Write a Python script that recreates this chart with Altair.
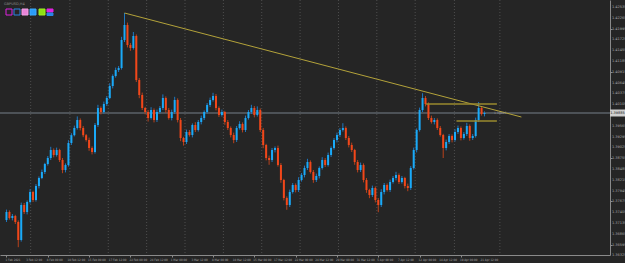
import altair as alt
import pandas as pd

# ---------------- data ----------------
first_open = 1.3721
closes = [
    1.3741, 1.3726, 1.3731, 1.3716, 1.3671, 1.37585, 1.3741, 1.3766, 1.3791, 1.3771,
    1.3806, 1.3826, 1.3841, 1.3861, 1.3876, 1.3896, 1.38835, 1.3896, 1.3871, 1.3846,
    1.38585, 1.39135, 1.3933, 1.3951, 1.3971, 1.3951, 1.3933, 1.3921, 1.3901, 1.3891,
    1.39585, 1.4001, 1.3991, 1.4011, 1.4026, 1.4056, 1.4081, 1.4096, 1.4101, 1.4171,
    1.42085, 1.41585, 1.4151, 1.4181, 1.4071, 1.40335, 1.4001, 1.3991, 1.3976, 1.3996,
    1.3971, 1.3991, 1.4001, 1.4026, 1.3996, 1.3976, 1.3991, 1.4021, 1.3971, 1.3926,
    1.3916, 1.3941, 1.39335, 1.39585, 1.3946, 1.3966, 1.3976, 1.3991, 1.40085, 1.4021,
    1.4031, 1.4001, 1.39835, 1.3991, 1.3966, 1.3951, 1.39335, 1.3921, 1.3951, 1.3961,
    1.3946, 1.3976, 1.3991, 1.4001, 1.39835, 1.3996, 1.3946, 1.39085, 1.3876, 1.3871,
    1.3896, 1.3901, 1.38585, 1.3821, 1.3776, 1.37585, 1.3791, 1.38085, 1.3796, 1.3821,
    1.38335, 1.3851, 1.3866, 1.3841, 1.3821, 1.3831, 1.3851, 1.3871, 1.38585, 1.38835,
    1.3901, 1.3921, 1.39335, 1.3946, 1.3951, 1.3926, 1.39085, 1.3896, 1.3866, 1.3846,
    1.38585, 1.3821, 1.3796, 1.37835, 1.3801, 1.3771, 1.37585, 1.3791, 1.38085, 1.3796,
    1.3816, 1.3826, 1.38335, 1.3816, 1.3826, 1.3806, 1.3801, 1.3851, 1.3896, 1.3946,
    1.3996, 1.4026, 1.4011, 1.3976, 1.3966, 1.3971, 1.3951, 1.39335, 1.3901, 1.3916,
    1.3931, 1.3921, 1.3941, 1.3951, 1.3926, 1.3936, 1.3956, 1.3926, 1.3931, 1.3971,
    1.4001, 1.3986, 1.39885,
]
upper_wick_pips = [
    6, 4, 5, 3, 4, 6, 5, 4, 7, 3,
    5, 4, 6, 3, 5, 8, 4, 6, 3, 5,
    4, 7, 5, 6, 9, 4, 5, 3, 6, 4,
    5, 8, 4, 6, 5, 7, 4, 6, 5, 8,
    30, 6, 5, 10, 4, 5, 6, 3, 5, 7,
    4, 6, 5, 9, 4, 5, 6, 8, 4, 5,
    3, 6, 5, 4, 7, 5, 6, 4, 5, 6,
    8, 5, 4, 6, 3, 5, 4, 6, 5, 7,
    4, 6, 5, 8, 5, 9, 4, 5, 3, 6,
    5, 4, 6, 5, 3, 4, 6, 5, 4, 7,
    5, 6, 8, 4, 5, 6, 4, 7, 5, 6,
    4, 5, 6, 5, 12, 4, 5, 6, 3, 5,
    6, 4, 5, 3, 6, 4, 5, 7, 5, 4,
    6, 5, 8, 4, 5, 3, 6, 5, 6, 4,
    6, 12, 5, 4, 6, 5, 4, 5, 3, 6,
    5, 4, 7, 6, 4, 5, 8, 4, 5, 6,
    15, 5, 4,
]
lower_wick_pips = [
    5, 4, 6, 5, 18, 4, 5, 6, 4, 5,
    4, 6, 3, 5, 4, 5, 6, 4, 5, 8,
    6, 4, 5, 3, 4, 6, 5, 4, 7, 6,
    4, 5, 6, 4, 5, 3, 6, 4, 5, 4,
    5, 6, 7, 4, 5, 8, 5, 6, 9, 4,
    6, 5, 4, 5, 7, 4, 6, 5, 6, 8,
    9, 5, 4, 6, 5, 4, 6, 5, 4, 5,
    4, 6, 5, 4, 7, 5, 6, 8, 5, 4,
    6, 5, 4, 5, 6, 4, 5, 8, 6, 12,
    5, 6, 4, 7, 6, 12, 5, 4, 6, 5,
    4, 6, 5, 4, 7, 5, 6, 4, 5, 4,
    5, 4, 6, 5, 4, 5, 6, 5, 7, 6,
    5, 6, 7, 8, 5, 6, 18, 5, 6, 4,
    5, 4, 6, 5, 4, 6, 8, 5, 4, 6,
    4, 5, 6, 5, 4, 6, 5, 4, 25, 6,
    5, 6, 4, 5, 6, 4, 5, 7, 5, 4,
    5, 4, 6,
]

price_ticks = [
    1.42535, 1.42265, 1.41995, 1.41725, 1.41455, 1.41185, 1.40915, 1.40645,
    1.40375, 1.40105, 1.39835, 1.39565, 1.39295, 1.39025, 1.38755, 1.38485,
    1.38215, 1.37945, 1.37675, 1.37405, 1.37135, 1.36865, 1.36595, 1.36325,
]
time_labels = [
    "1 Feb 2021", "3 Feb 12:00", "8 Feb 00:00", "10 Feb 12:00", "15 Feb 00:00",
    "17 Feb 12:00", "22 Feb 00:00", "24 Feb 12:00", "1 Mar 00:00", "3 Mar 12:00",
    "8 Mar 00:00", "10 Mar 12:00", "15 Mar 00:00", "17 Mar 12:00", "22 Mar 00:00",
    "24 Mar 12:00", "29 Mar 00:00", "31 Mar 12:00", "5 Apr 00:00", "7 Apr 12:00",
    "12 Apr 00:00", "14 Apr 12:00", "19 Apr 00:00", "21 Apr 12:00",
]
label_step = 7
grid_idx = [8.2, 21.5, 34.5, 47.5, 60.5, 73.5, 86.5, 99.5, 112.5, 125.5, 138.5, 151.8, 167.2]

trend_idx = [40, 174.5]
trend_price = [1.42385, 1.39785]
level_price = [1.4011, 1.39685]
level_start = [142.2, 152.5]
level_end = [166.2, 166.2]
bid_price = 1.39885
symbol_text = "GBPUSD,H4"

# ---------------- tables ----------------
n = len(closes)
opens = [first_open] + closes[:-1]
df = pd.DataFrame({"idx": list(range(n)), "open": opens, "close": closes})
df["high"] = [max(o, c) + u / 10000 for o, c, u in zip(opens, closes, upper_wick_pips)]
df["low"] = [min(o, c) - l / 10000 for o, c, l in zip(opens, closes, lower_wick_pips)]

label_idx = [i * label_step for i in range(len(time_labels))]
time_df = pd.DataFrame({"idx": label_idx, "txt": time_labels})
# the price label hidden under the current-price marker is not drawn (as in the terminal)
visible_ticks = [p for p in price_ticks if abs(p - bid_price) > 0.0012]
price_df = pd.DataFrame({"price": visible_ticks, "txt": [f"{p:.5f}" for p in visible_ticks]})
trend_df = pd.DataFrame({"idx": trend_idx, "price": trend_price})
level_df = pd.DataFrame({"x1": level_start, "x2": level_end, "price": level_price})
grid_df = pd.DataFrame({"idx": grid_idx})
bid_df = pd.DataFrame({"price": [bid_price], "txt": [f"{bid_price:.5f}"]})
dummy = pd.DataFrame({"a": [0]})

BG = "#252525"
AXC = "#8a8a8a"
LBL = "#a8a8a8"
FONT = "DejaVu Sans"
CFONT = "DejaVu Sans Condensed"
FS = 3.5

xscale = alt.Scale(domain=[-0.5, 202.83], nice=False, zero=False)
yscale = alt.Scale(domain=[1.36335, 1.4271], nice=False, zero=False)

x_axis = alt.Axis(values=label_idx, labels=False, tickSize=2, tickColor=AXC,
                  domainColor=AXC, grid=False, title=None)
y_axis = alt.Axis(orient="right", values=price_ticks, labels=False, tickSize=2,
                  tickColor=AXC, domainColor=AXC, grid=False, title=None)

base = alt.Chart(df)
bull = "datum.open <= datum.close"

wicks = base.mark_rule(strokeWidth=1).encode(
    x=alt.X("idx:Q", scale=xscale, axis=x_axis),
    y=alt.Y("low:Q", scale=yscale, axis=y_axis),
    y2="high:Q",
    color=alt.condition(bull, alt.value("#1f78c0"), alt.value("#b8421c")),
)
bodies = base.mark_bar(size=2).encode(
    x="idx:Q", y="open:Q", y2="close:Q",
    color=alt.condition(bull, alt.value("#1aaaf8"), alt.value("#f2471a")),
)

grid = alt.Chart(grid_df).mark_rule(color="#4e4e4e", strokeDash=[1, 2], strokeWidth=1).encode(
    x="idx:Q")
bid_line = alt.Chart(bid_df).mark_rule(color="#76808a", strokeWidth=1).encode(y="price:Q")
trend = alt.Chart(trend_df).mark_line(color="#b3a23a", strokeWidth=1).encode(
    x="idx:Q", y="price:Q")
levels = alt.Chart(level_df).mark_rule(color="#9a8a2e", strokeWidth=1.5).encode(
    x="x1:Q", x2="x2:Q", y="price:Q")

line_tag = alt.Chart(bid_df).mark_text(align="left", baseline="middle", fontSize=3,
                                       color="#9a9a9a", font=FONT, dx=2).encode(
    x=alt.datum(164.5), y="price:Q", text="txt:N")

price_labels = alt.Chart(price_df).mark_text(align="left", baseline="middle", fontSize=FS,
                                             color=LBL, font=FONT).encode(
    x=alt.value(612), y="price:Q", text="txt:N")
time_text = alt.Chart(time_df).mark_text(align="left", baseline="middle", fontSize=3,
                                         color=LBL, font=CFONT, dx=-1).encode(
    x="idx:Q", y=alt.value(259.5), text="txt:N")

marker_box = alt.Chart(bid_df).mark_tick(orient="horizontal", size=15, thickness=7,
                                         color="#cfcfcf", opacity=1).encode(
    x=alt.value(617.5), y="price:Q")
marker_txt = alt.Chart(bid_df).mark_text(align="center", baseline="middle", fontSize=FS,
                                         color="#202020", font=FONT).encode(
    x=alt.value(617.5), y="price:Q", text="txt:N")

title_txt = alt.Chart(dummy).mark_text(align="left", baseline="top", fontSize=FS,
                                       color="#8c8c8c", font=FONT, text=symbol_text).encode(
    x=alt.value(4), y=alt.value(1.5))

sq_specs = [
    (6, 9, 15, "#252525", "#e022e0"),
    (14, 9, 15, "#252525", "#2a84e6"),
    (22, 9, 15, "#e884d8", "#f2a0e6"),
    (30, 9, 15, "#2a9cf8", "#3aaaff"),
    (39, 9, 15, "#8ee012", "#9cf020"),
    (47, 9, 12, "#e022e0", "#e022e0"),
    (47, 13, 15.5, "#2a84e6", "#2a84e6"),
]
squares = [
    alt.Chart(dummy).mark_rect(fill=f, stroke=s, strokeWidth=1).encode(
        x=alt.value(x0), x2=alt.value(x0 + 6), y=alt.value(y0), y2=alt.value(y1))
    for (x0, y0, y1, f, s) in sq_specs
]

chart = alt.layer(
    grid, bid_line, wicks, bodies, trend, levels, line_tag,
    price_labels, time_text, marker_box, marker_txt, title_txt, *squares,
).properties(
    width=610, height=255,
    padding={"left": 0, "top": 0, "right": 15, "bottom": 8},
    autosize="none",
    background=BG,
).configure_view(strokeWidth=0)

chart.save("out.html", embed_options={"renderer": "svg", "actions": False})
